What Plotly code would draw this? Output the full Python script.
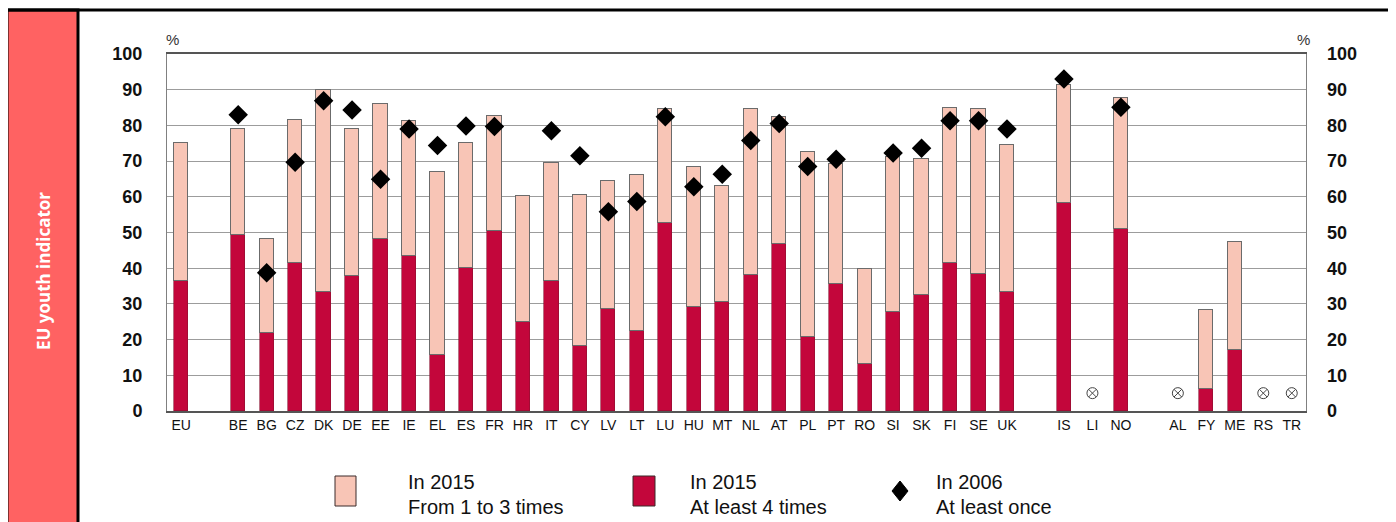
import plotly.graph_objects as go

# categories (blank strings are the gaps between country groups)
categories = ["EU", " ",
              "BE", "BG", "CZ", "DK", "DE", "EE", "IE", "EL", "ES", "FR", "HR", "IT", "CY", "LV",
              "LT", "LU", "HU", "MT", "NL", "AT", "PL", "PT", "RO", "SI", "SK", "FI", "SE", "UK",
              "  ", "IS", "LI", "NO", "   ", "AL", "FY", "ME", "RS", "TR"]

# In 2015, at least 4 times (%)
at_least_4 = [36.5, None,
              49.2, 21.9, 41.4, 33.2, 37.9, 48.2, 43.5, 15.6, 40.1, 50.3, 24.9, 36.5, 18.3, 28.6,
              22.5, 52.6, 29.2, 30.6, 38.0, 46.7, 20.6, 35.5, 13.2, 27.7, 32.5, 41.4, 38.3, 33.4,
              None, 58.3, None, 51.0, None, None, 6.3, 17.1, None, None]

# In 2015, at least once (total height of bar, %)
total_2015 = [75.0, None,
              79.1, 48.2, 81.5, 89.9, 79.0, 85.9, 81.2, 66.9, 75.0, 82.5, 60.3, 69.6, 60.6, 64.4,
              66.2, 84.6, 68.4, 63.0, 84.6, 82.3, 72.5, 69.2, 39.9, 71.1, 70.6, 84.8, 84.6, 74.6,
              None, 91.4, None, 87.7, None, None, 28.2, 47.3, None, None]

# In 2006, at least once (%)
at_least_once_2006 = [None, None,
                      83.0, 38.7, 69.7, 86.9, 84.3, 64.9, 79.0, 74.4, 79.8, 79.7, None, 78.5, 71.5, 55.8,
                      58.7, 82.4, 62.8, 66.3, 75.8, 80.5, 68.5, 70.5, None, 72.3, 73.6, 81.3, 81.3, 79.0,
                      None, 93.0, None, 85.1, None, None, None, None, None, None]

# countries with no data (shown with a crossed circle)
not_available = ["LI", "AL", "RS", "TR"]
na_marker_level = 5

y_ticks = [0, 10, 20, 30, 40, 50, 60, 70, 80, 90, 100]

LIGHT = "#F8C5B6"
DARK = "#C3063B"

one_to_three = [(t - d) if (t is not None and d is not None) else None
                for t, d in zip(total_2015, at_least_4)]

# the page has an 8px body margin, so work in screen pixels and shift
OFF = 8
W, H = 1396 - OFF, 522 - OFF
PL, PR, PT, PB = 167 - OFF, 1306 - OFF, 54 - OFF, 411 - OFF


def px(x):
    return (x - OFF - PL) / (PR - PL)


def py(y):
    return (PB - (y - OFF)) / (PB - PT)


fig = go.Figure()
fig.add_trace(go.Bar(x=categories, y=at_least_4, marker=dict(color=DARK, line=dict(color="#8a1030", width=0.6)),
                     width=0.5, showlegend=False, hoverinfo="y"))
fig.add_trace(go.Bar(x=categories, y=one_to_three, marker=dict(color=LIGHT, line=dict(color="#6b6b6b", width=1)),
                     width=0.5, showlegend=False, hoverinfo="y"))
fig.add_trace(go.Scatter(x=categories, y=at_least_once_2006, mode="markers",
                         marker=dict(symbol="diamond", size=15, color="black"),
                         showlegend=False))
fig.add_trace(go.Scatter(x=not_available, y=[na_marker_level] * len(not_available), mode="markers",
                         marker=dict(symbol="circle-x-open", size=11, color="#444444", line=dict(width=1)),
                         showlegend=False, hoverinfo="skip"))
# dummy trace to show the right-hand axis
fig.add_trace(go.Scatter(x=["EU"], y=[None], yaxis="y2", showlegend=False, hoverinfo="skip"))

tick_font = dict(family="Liberation Sans, Arial", size=18, color="#111111", weight="bold")

fig.update_layout(
    width=W, height=H,
    margin=dict(l=PL, r=W - PR, t=PT, b=H - PB, autoexpand=False),
    paper_bgcolor="white", plot_bgcolor="white",
    barmode="stack", bargap=0,
    xaxis=dict(type="category", categoryorder="array", categoryarray=categories,
               tickfont=dict(family="Liberation Sans, Arial", size=14, color="#111111"),
               showgrid=False, ticks="", showline=True, linecolor="#555555", linewidth=1.5, mirror=True,
               range=[-0.5, len(categories) - 0.5], automargin=False),
    yaxis=dict(range=[0, 100], tickvals=y_ticks, tickfont=tick_font,
               gridcolor="#9c9c9c", gridwidth=1, showline=True, linecolor="#808080", mirror=True,
               zeroline=False, ticks="", ticklabelstandoff=20, automargin=False),
    yaxis2=dict(range=[0, 100], tickvals=y_ticks, tickfont=tick_font, overlaying="y", side="right",
                showgrid=False, zeroline=False, showline=False, ticks="", ticklabelstandoff=20,
                automargin=False),
    font=dict(family="Liberation Sans, Arial", color="#111111"),
)

shapes = []
# outer frame and the red sidebar
shapes.append(dict(type="rect", xref="paper", yref="paper", x0=px(7), x1=px(78), y0=py(540), y1=py(10),
                   fillcolor="#FF6262", line=dict(color="black", width=3), layer="below"))
shapes.append(dict(type="line", xref="paper", yref="paper", x0=px(7), x1=px(1394), y0=py(10), y1=py(10),
                   line=dict(color="black", width=3)))
shapes.append(dict(type="line", xref="paper", yref="paper", x0=px(1394), x1=px(1394), y0=py(10), y1=py(540),
                   line=dict(color="black", width=3)))

# legend swatches
shapes.append(dict(type="rect", xref="paper", yref="paper", x0=px(335), x1=px(356), y0=py(506), y1=py(476),
                   fillcolor=LIGHT, line=dict(color="#3a2a2a", width=1)))
shapes.append(dict(type="rect", xref="paper", yref="paper", x0=px(633), x1=px(655), y0=py(506), y1=py(476),
                   fillcolor=DARK, line=dict(color="#3a2a2a", width=1)))
shapes.append(dict(type="path", xref="paper", yref="paper",
                   path="M {a},{b} L {c},{d} L {a},{e} L {f},{d} Z".format(
                       a=px(900), b=py(481), c=px(908), d=py(491), e=py(501), f=px(892)),
                   fillcolor="black", line=dict(color="black", width=1)))

annotations = [
    dict(text="<b>EU youth indicator</b>", xref="paper", yref="paper", x=px(43), y=py(271),
         xanchor="center", yanchor="middle", textangle=-90, showarrow=False,
         font=dict(family="Open Sans, Liberation Sans", size=17, color="white")),
    dict(text="%", xref="paper", yref="paper", x=px(172), y=py(40), xanchor="center", yanchor="middle",
         showarrow=False, font=dict(family="Liberation Sans", size=15, color="#333333")),
    dict(text="%", xref="paper", yref="paper", x=px(1303), y=py(40), xanchor="center", yanchor="middle",
         showarrow=False, font=dict(family="Liberation Sans", size=15, color="#333333")),
]
legend_text = [(406, "In 2015", "From 1 to 3 times"),
               (688, "In 2015", "At least 4 times"),
               (934, "In 2006", "At least once")]
for x0, l1, l2 in legend_text:
    annotations.append(dict(text=l1, xref="paper", yref="paper", x=px(x0), y=py(482), xanchor="left",
                            yanchor="middle", showarrow=False, font=dict(size=20, color="#111111")))
    annotations.append(dict(text=l2, xref="paper", yref="paper", x=px(x0), y=py(507), xanchor="left",
                            yanchor="middle", showarrow=False, font=dict(size=20, color="#111111")))

fig.update_layout(shapes=shapes, annotations=annotations)

fig.write_html("out.html")
